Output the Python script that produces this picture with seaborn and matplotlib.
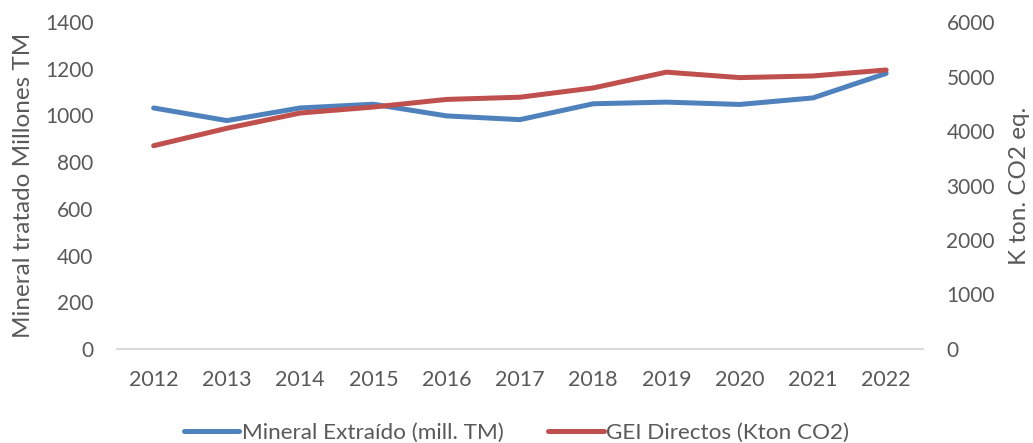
import seaborn as sns
import matplotlib.pyplot as plt
import pandas as pd

# values
years = [2012, 2013, 2014, 2015, 2016, 2017, 2018, 2019, 2020, 2021, 2022]
mineral = [1032, 978, 1032, 1048, 998, 982, 1050, 1057, 1047, 1075, 1180]
gei = [3730, 4050, 4330, 4440, 4580, 4620, 4790, 5080, 4980, 5010, 5120]

label_mineral = "Mineral Extraído (mill. TM)"
label_gei = "GEI Directos (Kton CO2)"

sns.set_style("white")
plt.rcParams['font.family'] = ['Lato', 'DejaVu Sans']
grey = "#595959"

df = pd.DataFrame({"year": years, "mineral": mineral, "gei": gei})

fig = plt.figure(figsize=(10.33, 4.43), dpi=100)
ax = fig.add_axes([0.1133, 0.2122, 0.780, 0.7381])
ax2 = ax.twinx()

sns.lineplot(data=df, x="year", y="mineral", ax=ax, color="#4F81BD",
             linewidth=3.6, solid_capstyle="round", label=label_mineral, legend=False)
sns.lineplot(data=df, x="year", y="gei", ax=ax2, color="#C0504D",
             linewidth=3.6, solid_capstyle="round", label=label_gei, legend=False)

ax.set_xlim(2011.5, 2022.5)
ax.set_ylim(0, 1400)
ax2.set_ylim(0, 6000)
ax.set_xticks(years)
ax.set_yticks(range(0, 1401, 200))
ax2.set_yticks(range(0, 6001, 1000))

for a in (ax, ax2):
    for s in ("top", "left", "right"):
        a.spines[s].set_visible(False)
    a.spines["bottom"].set_color("#D9D9D9")
    a.spines["bottom"].set_linewidth(1.2)
    a.tick_params(length=0, labelsize=15, colors=grey)

ax.tick_params(axis="y", pad=17)
ax.tick_params(axis="x", labelsize=15.5, pad=15)
ax2.tick_params(axis="y", pad=17)

ax.set_xlabel("")
ax.set_ylabel("Mineral tratado Millones TM", fontsize=17.5, color=grey, labelpad=8)
ax2.set_ylabel("K ton. CO2 eq.", fontsize=17.5, color=grey, labelpad=10)

h1, l1 = ax.get_legend_handles_labels()
h2, l2 = ax2.get_legend_handles_labels()
fig.legend(h1 + h2, l1 + l2, loc="lower center", bbox_to_anchor=(0.5, -0.045),
           ncol=2, frameon=False, fontsize=16.2, labelcolor=grey,
           handlelength=2.45, handletextpad=0.1, columnspacing=2.0)

fig.savefig("out.png", dpi=100)
